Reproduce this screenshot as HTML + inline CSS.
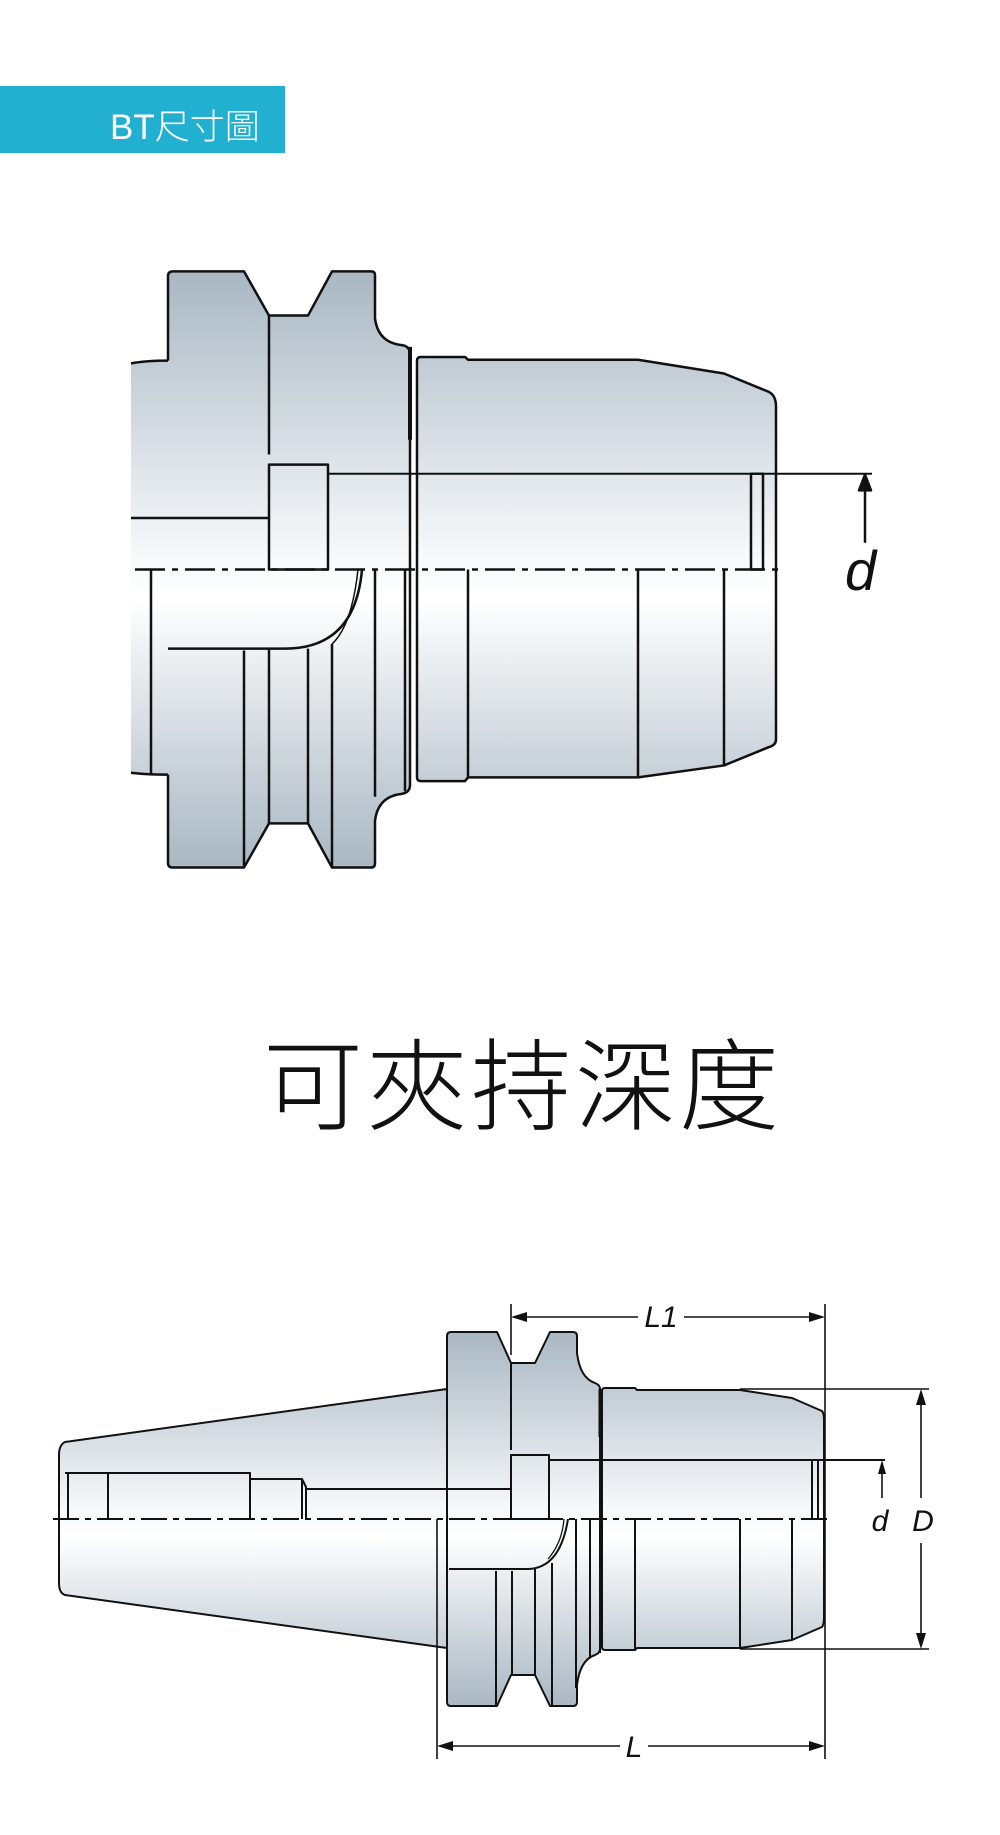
<!DOCTYPE html>
<html><head><meta charset="utf-8"><style>
html,body{margin:0;padding:0;background:#fff;}
body{width:1000px;height:1835px;position:relative;overflow:hidden;}
.banner{position:absolute;left:0;top:86px;width:285px;height:67px;background:#22b0d0;}
.banner span{position:absolute;left:110px;top:13px;color:#fff;font:300 35px "Liberation Sans","Noto Sans CJK TC",sans-serif;letter-spacing:0px;}
.title{position:absolute;left:0;width:1046px;top:1006px;text-align:center;font:300 100px "Liberation Sans","Noto Sans CJK TC",sans-serif;color:#111;letter-spacing:4px;}
svg{position:absolute;left:0;top:0;}
</style></head><body>
<div class="banner"><span>BT尺寸圖</span></div>
<div class="title">可夾持深度</div>
<svg width="1000" height="1835" viewBox="0 0 1000 1835" xmlns="http://www.w3.org/2000/svg">
<defs>
<linearGradient id="g1" gradientUnits="userSpaceOnUse" x1="0" y1="295" x2="0" y2="943">
<stop offset="0" stop-color="#a9b7c3"/><stop offset="0.47" stop-color="#f6f8fa"/><stop offset="0.55" stop-color="#ffffff"/><stop offset="1" stop-color="#a9b7c3"/></linearGradient>
<linearGradient id="g2" gradientUnits="userSpaceOnUse" x1="0" y1="1339" x2="0" y2="1713">
<stop offset="0" stop-color="#a9b7c3"/><stop offset="0.47" stop-color="#f6f8fa"/><stop offset="0.55" stop-color="#ffffff"/><stop offset="1" stop-color="#a9b7c3"/></linearGradient>
<style>g.s *{vector-effect:non-scaling-stroke;}</style>
</defs>
<!-- TOP DRAWING -->
<g class="s" transform="matrix(1 0 0 0.92 0 0)" stroke="#111" stroke-width="2.5" fill="none" stroke-linejoin="round">
<path d="M131,395 Q145,392 168,392 L168,842 Q145,842 131,840 Z" fill="url(#g1)" stroke="none"/>
<path d="M131,395 Q145,392 168,392 M131,840 Q145,842 168,842"/>
<path d="M168,300 Q168,295 173,295 L244,295 L269,343 L308,343 L332,295 L371,295 Q375,295 375,299 L375,346 Q378,372 401,375 Q410,376 410,385 L410,853 Q410,862 401,863 Q378,866 375,892 L375,938 Q375,943 371,943 L332,943 L308,895 L269,895 L244,943 L173,943 Q168,943 168,938 L168,842 M168,392 Z" fill="url(#g1)"/>
<path d="M168,300 L168,392"/>
<path d="M417,392 Q417,388 421,388 L465,388 L468,391 L638,391 L724,406 L769,426 Q776,430 776,442 L776,804 Q776,810 769,812 L724,832 L638,845 L468,845 L465,849 L421,849 Q417,849 417,845 Z" fill="url(#g1)"/>
<line x1="269" y1="343" x2="269" y2="494"/>
<rect x="269" y="505" width="59" height="114" fill="url(#g1)"/>
<line x1="131" y1="563" x2="269" y2="563"/>
<line x1="328" y1="515" x2="872" y2="515" stroke-width="2"/>
<rect x="751" y="515" width="12" height="104"/>
<line x1="151" y1="619" x2="151" y2="842"/>
<path d="M168,705 L285,705 Q355,705 362,619"/>
<path d="M332,700 Q352,680 358,619" stroke-width="1.5"/>
<line x1="244" y1="707" x2="244" y2="943"/>
<line x1="269" y1="705" x2="269" y2="895"/>
<line x1="308" y1="705" x2="308" y2="895"/>
<line x1="332" y1="700" x2="332" y2="943"/>
<line x1="375" y1="619" x2="375" y2="866"/>
<line x1="405" y1="619" x2="405" y2="860"/>
<line x1="410" y1="377" x2="410" y2="478" stroke-width="4"/>
<line x1="468" y1="619" x2="468" y2="845"/>
<line x1="638" y1="619" x2="638" y2="845"/>
<line x1="724" y1="619" x2="724" y2="832"/>
<line x1="135" y1="619" x2="782" y2="619" stroke-dasharray="30 7 6 7"/>
<line x1="865" y1="590" x2="865" y2="530" stroke-width="2.5"/>
<path d="M865,516 L859,533 L871,533 Z" fill="#111"/>
</g>
<text x="845" y="590" font-family="Liberation Sans, sans-serif" font-style="italic" font-size="56" fill="#111">d</text>

<!-- BOTTOM DRAWING -->
<g transform="translate(0,-7)">
<g stroke="#111" stroke-width="2" fill="none" stroke-linejoin="round">
<path d="M447,1396 L65,1449 Q59,1452 59,1462 L59,1590 Q59,1600 65,1602 L447,1655 Z" fill="url(#g2)"/>
<path d="M447,1343 Q447,1339 451,1339 L497,1339 L511,1370 L535,1370 L550,1339 L573,1339 Q577,1339 577,1343 L577,1360 Q580,1385 595,1390 Q600,1392 600,1396 L600,1656 Q600,1660 595,1662 Q580,1667 577,1692 L577,1709 Q577,1713 573,1713 L550,1713 L535,1682 L511,1682 L497,1713 L451,1713 Q447,1713 447,1709 Z" fill="url(#g2)"/>
<path d="M602,1398 Q602,1395 605,1395 L635,1395 L637,1397 L740,1397 L792,1405 L822,1418 Q824,1420 824,1428 L824,1624 Q824,1632 822,1634 L792,1647 L740,1655 L637,1655 L635,1657 L605,1657 Q602,1657 602,1654 Z" fill="url(#g2)"/>
<line x1="600" y1="1396" x2="600" y2="1444" stroke-width="3"/>
<line x1="511" y1="1370" x2="511" y2="1457"/>
<rect x="511" y="1462" width="38" height="64" fill="url(#g2)"/>
<line x1="549" y1="1467" x2="885" y2="1467"/>
<line x1="306" y1="1496" x2="511" y2="1496"/>
<line x1="68" y1="1480" x2="68" y2="1526"/>
<path d="M65,1480 L250,1480 L250,1486 L302,1486 L306,1494 L306,1526"/>
<line x1="108" y1="1480" x2="108" y2="1526"/>
<line x1="250" y1="1480" x2="250" y2="1526"/>
<line x1="302" y1="1486" x2="302" y2="1526"/>
<line x1="812" y1="1467" x2="812" y2="1526"/>
<line x1="818" y1="1467" x2="818" y2="1526"/>
<path d="M449,1576 L527,1576 Q560,1576 568,1526"/>
<path d="M548,1566 Q562,1550 564,1526" stroke-width="1.3"/>
<line x1="496" y1="1578" x2="496" y2="1713"/>
<line x1="512" y1="1578" x2="512" y2="1682"/>
<line x1="535" y1="1576" x2="535" y2="1682"/>
<line x1="552" y1="1570" x2="552" y2="1713"/>
<line x1="576" y1="1526" x2="576" y2="1695"/>
<line x1="590" y1="1526" x2="590" y2="1664"/>
<line x1="600" y1="1526" x2="600" y2="1660"/>
<line x1="635" y1="1526" x2="635" y2="1657"/>
<line x1="740" y1="1526" x2="740" y2="1655"/>
<line x1="792" y1="1526" x2="792" y2="1647"/>
<line x1="53" y1="1526" x2="829" y2="1526" stroke-dasharray="26 6 6 6"/>
<line x1="511" y1="1311" x2="511" y2="1362" stroke-width="1.6"/>
<line x1="825" y1="1311" x2="825" y2="1766" stroke-width="1.6"/>
<line x1="437" y1="1526" x2="437" y2="1766" stroke-width="1.6"/>
<line x1="525" y1="1324" x2="638" y2="1324" stroke-width="1.6"/>
<line x1="684" y1="1324" x2="812" y2="1324" stroke-width="1.6"/>
<line x1="450" y1="1753" x2="620" y2="1753" stroke-width="1.6"/>
<line x1="648" y1="1753" x2="812" y2="1753" stroke-width="1.6"/>
<line x1="740" y1="1396" x2="929" y2="1396" stroke-width="1.6"/>
<line x1="740" y1="1656" x2="929" y2="1656" stroke-width="1.6"/>
<line x1="921" y1="1408" x2="921" y2="1505" stroke-width="1.6"/>
<line x1="921" y1="1550" x2="921" y2="1644" stroke-width="1.6"/>
<line x1="882" y1="1478" x2="882" y2="1505" stroke-width="1.6"/>
</g>
<g fill="#111">
<path d="M511,1324 L527,1319 L527,1329 Z"/>
<path d="M825,1324 L809,1319 L809,1329 Z"/>
<path d="M437,1753 L453,1748 L453,1758 Z"/>
<path d="M825,1753 L809,1748 L809,1758 Z"/>
<path d="M921,1396 L916,1412 L926,1412 Z"/>
<path d="M921,1656 L916,1640 L926,1640 Z"/>
<path d="M882,1467 L878,1481 L886,1481 Z"/>
</g>
<g font-family="Liberation Sans, sans-serif" font-style="italic" font-size="30" fill="#111" text-anchor="middle">
<text x="661" y="1334">L1</text>
<text x="634" y="1764">L</text>
<text x="880" y="1538">d</text>
<text x="923" y="1538">D</text>
</g>
</g>
</svg>
</body></html>
